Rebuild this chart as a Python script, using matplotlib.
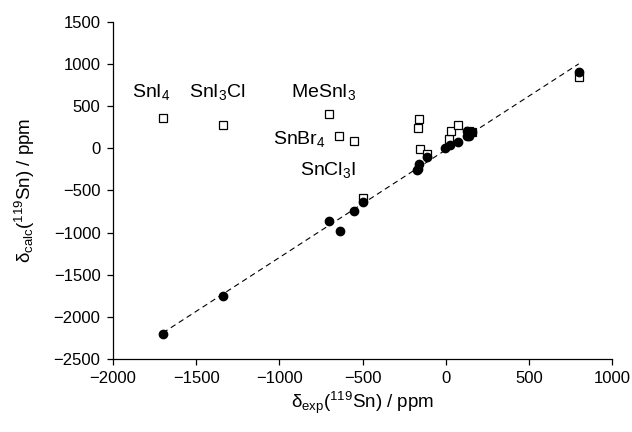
import matplotlib
matplotlib.use("Agg")
import matplotlib.pyplot as plt

plt.rcParams["font.family"] = ["Liberation Sans", "DejaVu Sans"]
plt.rcParams["mathtext.fontset"] = "custom"
plt.rcParams["mathtext.rm"] = "Liberation Sans"
plt.rcParams["mathtext.it"] = "Liberation Sans"

# delta_exp / delta_calc (ppm)
circ_exp = [-1700, -1340, -700, -638, -554, -498, -170, -160, -165, -110,
            -2, 28, 72, 130, 140, 160, 130, 800]
circ_calc = [-2200, -1750, -862, -977, -743, -636, -260, -185, -245, -105,
             2, 34, 73, 200, 150, 190, 140, 905]

sq_exp = [-1700, -1340, -700, -640, -550, -500, -160, -165, -155, -110,
          18, 32, 72, 140, 160, 800]
sq_calc = [360, 272, 403, 141, 85, -590, 345, 235, -5, -65,
           113, 204, 280, 205, 195, 840]

fit_x = [-1700, 800]
fit_y = [-2190, 1000]

labels = ["SnI$_4$", "SnI$_3$Cl", "MeSnI$_3$", "SnBr$_4$", "SnCl$_3$I"]
label_x = [-1888, -1541, -931, -1039, -875]
label_y = [608, 608, 608, 54, -323]

fig = plt.figure(figsize=(6.32, 4.32), dpi=100)
ax = fig.add_axes([0.1788, 0.1690, 0.7896, 0.7808])

ax.plot(fit_x, fit_y, color="black", lw=0.8, dashes=(5, 3.5), zorder=1)
ax.plot(sq_exp, sq_calc, "s", ms=5.2, mfc="white", mec="black", mew=0.9, zorder=2)
ax.plot(circ_exp, circ_calc, "o", ms=6, color="black", zorder=3)

for t, x, y in zip(labels, label_x, label_y):
    ax.text(x, y, t, fontsize=14, ha="left", va="baseline")

ax.set_xlim(-2000, 1000)
ax.set_ylim(-2500, 1500)
ax.set_xticks(range(-2000, 1001, 500))
ax.set_yticks(range(-2500, 1501, 500))
ax.spines["top"].set_visible(False)
ax.spines["right"].set_visible(False)
for s in ["left", "bottom"]:
    ax.spines[s].set_linewidth(0.9)
ax.tick_params(direction="out", length=4, width=0.9, labelsize=12, pad=5)

ax.set_xlabel(r"$\mathregular{\delta_{exp}(^{119}Sn)\ /\ ppm}$", fontsize=13.5, labelpad=2)
ax.set_ylabel(r"$\mathregular{\delta_{calc}(^{119}Sn)\ /\ ppm}$", fontsize=13.5, labelpad=12)

fig.savefig("out.png", dpi=100)
